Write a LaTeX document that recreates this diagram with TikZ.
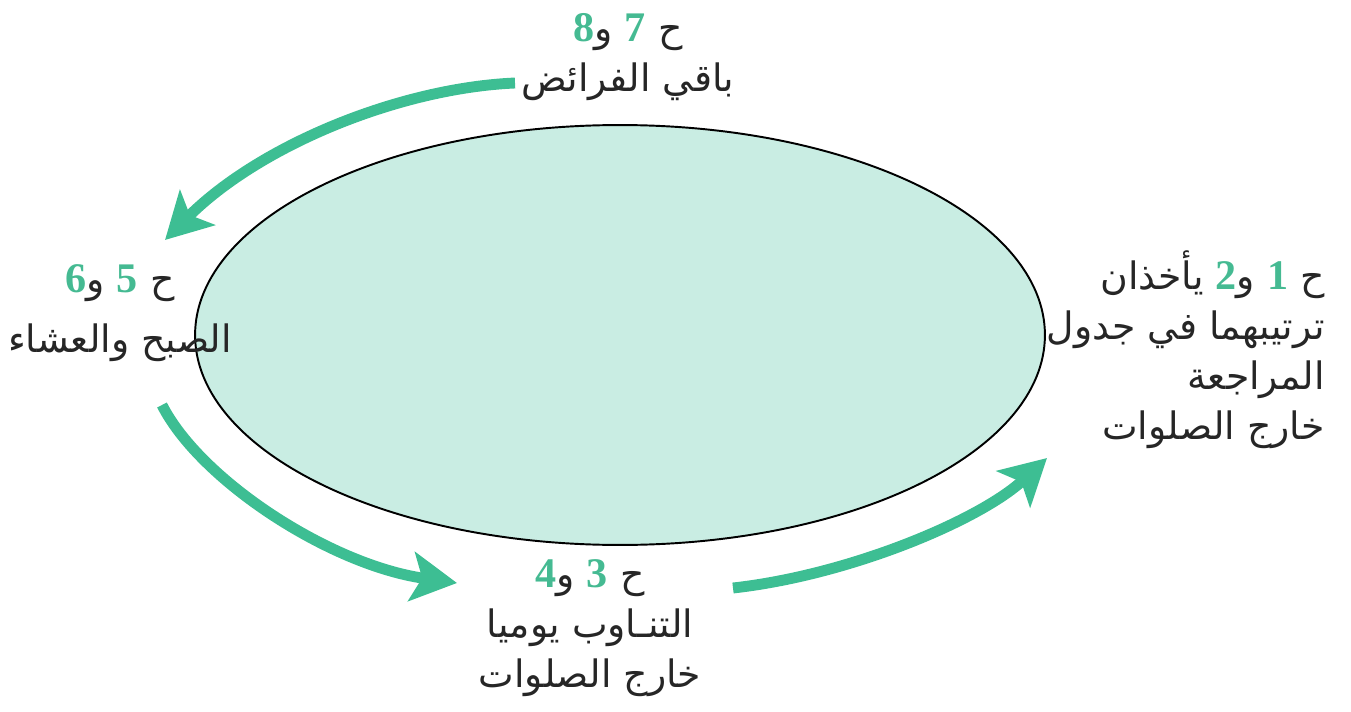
\documentclass[tikz,border=0pt]{standalone}
\usepackage{tikz}
\usetikzlibrary{
  positioning,
  arrows.meta,
  shapes.geometric
}
\usepackage{xcolor}
\usepackage{fontspec}
\newfontfamily\arabicfont[Script=Arabic]{DejaVu Sans}
\newfontfamily\numfont{Liberation Serif}
\TeXXeTstate=1
\definecolor{cyclegreen}{HTML}{3DBE93}
\definecolor{numgreen}{HTML}{45BA92}
\definecolor{cyclefill}{HTML}{C9EDE3}
\newcommand{\hnum}[1]{\beginL{\numfont\bfseries\fontsize{24}{28}\selectfont\color{numgreen}#1}\endL{}}

\begin{document}
\begin{tikzpicture}[
  x=0.02cm, y=0.02cm,
  label/.style={font=\arabicfont\fontsize{21.5}{28.5}\selectfont, inner sep=0pt, text=black!85},
  arr/.style={-{Stealth[length=26pt, width=28pt, inset=6pt]}, line width=6.2pt, cyclegreen},
]
  \useasboundingbox (0,0) rectangle (1351,711);

  % Central ellipse
  \node[draw, ellipse, fill=cyclefill, line width=1.1pt,
        minimum width=17cm, minimum height=8.4cm, inner sep=0pt] (cycle) at (620, 376) {};

  % Labels around the cycle
  \node[label, align=center] (top) at (628, 654) {
    \beginR ح \hnum{7} و\hnum{8}\endR\\
    \beginR باقي الفرائض\endR
  };
  \node[label, align=center] (left) at (120, 398) {
    \beginR ح \hnum{5} و\hnum{6}\endR\\[6pt]
    \beginR الصبح والعشاء\endR
  };
  \node[label, align=center] (bottom) at (590, 83) {
    \beginR ح \hnum{3} و\hnum{4}\endR\\
    \beginR التنـاوب يوميا\endR\\
    \beginR خارج الصلوات\endR
  };
  \node[label, align=right, anchor=east] (right) at (1325, 361) {
    \beginR ح \hnum{1} و\hnum{2} يأخذان\endR\\
    \beginR ترتيبهما في جدول\endR\\
    \beginR المراجعة\endR\\
    \beginR خارج الصلوات\endR
  };

  % Arrow ends
  \coordinate (top-out) at (515, 628);
  \coordinate (left-in) at (165, 471);
  \coordinate (left-out) at (162, 306);
  \coordinate (bottom-in) at (457, 128);
  \coordinate (bottom-out) at (733, 123);
  \coordinate (right-in) at (1047, 253);

  \draw[arr] (top-out) .. controls (400, 623) and (260, 566) .. (left-in);
  \draw[arr] (left-out) .. controls (200, 231) and (330, 146) .. (bottom-in);
  \draw[arr] (bottom-out) .. controls (850, 136) and (980, 191) .. (right-in);

\end{tikzpicture}
\end{document}
